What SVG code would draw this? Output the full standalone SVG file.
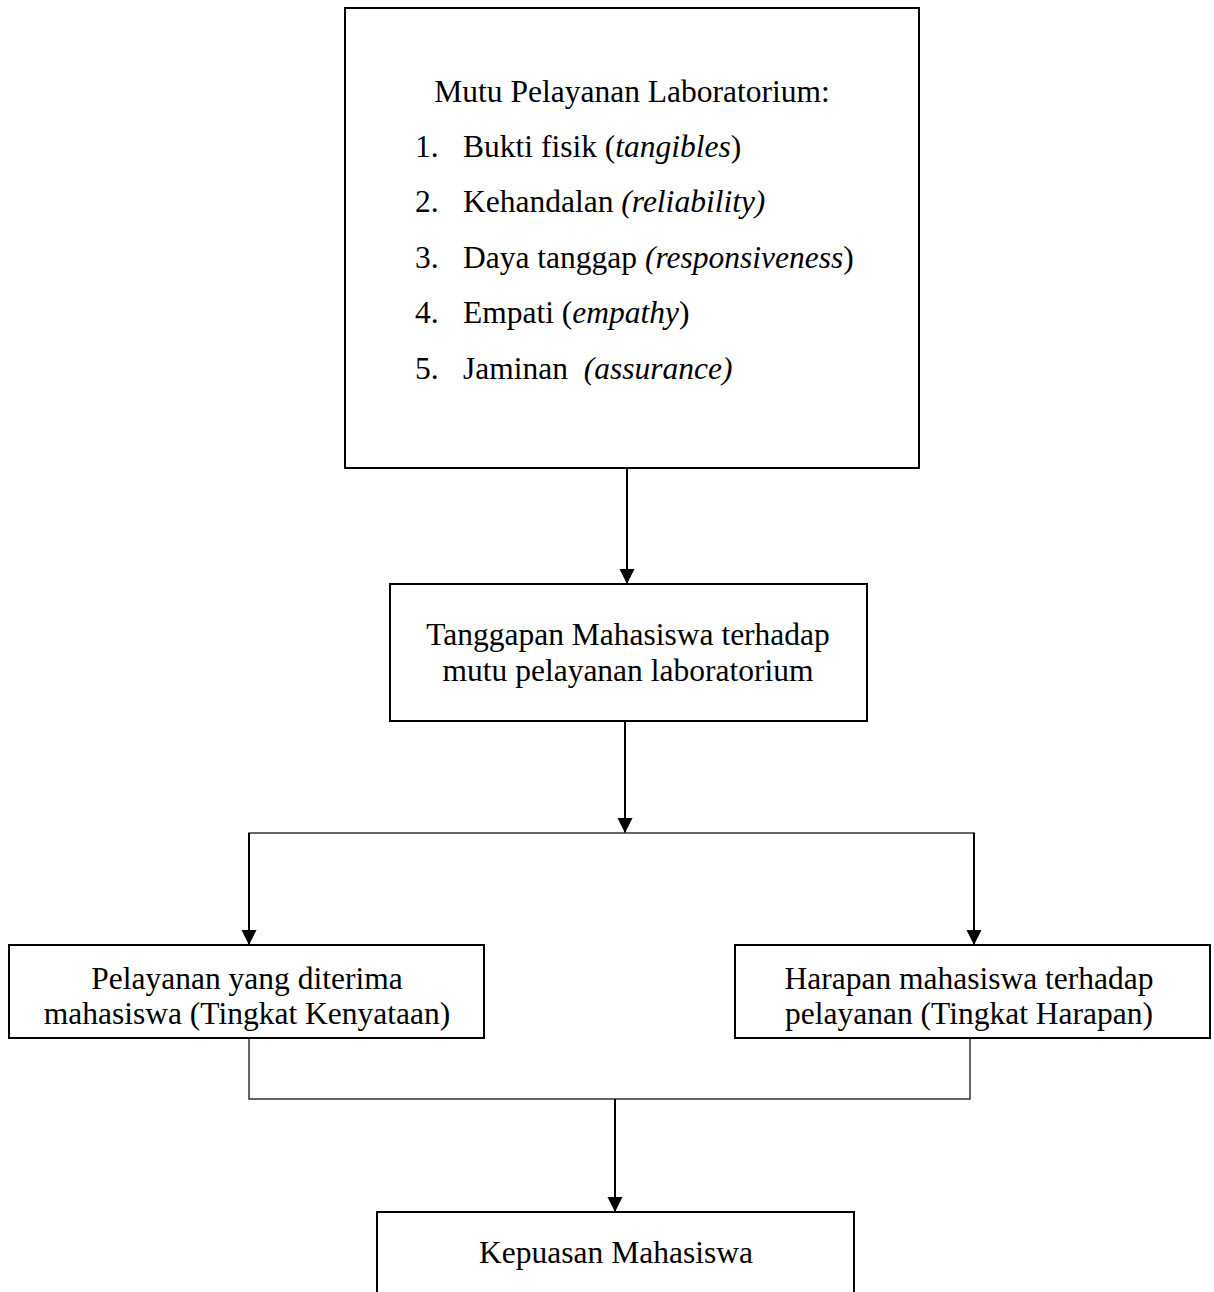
<svg xmlns="http://www.w3.org/2000/svg" width="1214" height="1292" viewBox="0 0 1214 1292">
<style>
  .box { fill: #fff; stroke: #000; stroke-width: 2; }
  .t { font-family: "Liberation Serif", "Times New Roman", serif; font-size: 31.5px; fill: #000; }
  .c { text-anchor: middle; }
  .i { font-style: italic; }
  .arrow { fill: none; stroke: #000; stroke-width: 2; marker-end: url(#ah); }
  .link { fill: none; stroke: #333; stroke-width: 1.5; }
</style>
<defs>
  <marker id="ah" markerUnits="userSpaceOnUse" markerWidth="16" markerHeight="16" refX="15" refY="7.5" orient="auto">
    <path d="M0,0 L15,7.5 L0,15 Z" fill="#000"/>
  </marker>
</defs>
<rect width="1214" height="1292" fill="#fff"/>

<g id="connectors">
  <line class="arrow" x1="627" y1="469" x2="627" y2="584"/>
  <line class="arrow" x1="625" y1="721" x2="625" y2="833"/>
  <polyline class="link" points="249,945 249,833 974,833 974,945"/>
  <line class="arrow" x1="249" y1="833" x2="249" y2="945"/>
  <line class="arrow" x1="974" y1="833" x2="974" y2="945"/>
  <polyline class="link" points="249,1038 249,1099 970,1099 970,1038"/>
  <line class="arrow" x1="615" y1="1099" x2="615" y2="1212"/>
</g>

<g id="node-mutu">
  <rect class="box" x="345" y="8" width="574" height="460"/>
  <text class="t c" x="632" y="102">Mutu Pelayanan Laboratorium:</text>
  <text class="t" x="415" y="157">1.</text>
  <text class="t" x="463" y="157">Bukti fisik (<tspan class="i">tangibles</tspan>)</text>
  <text class="t" x="415" y="212">2.</text>
  <text class="t" x="463" y="212">Kehandalan <tspan class="i">(reliability)</tspan></text>
  <text class="t" x="415" y="268">3.</text>
  <text class="t" x="463" y="268">Daya tanggap <tspan class="i">(responsiveness</tspan>)</text>
  <text class="t" x="415" y="323">4.</text>
  <text class="t" x="463" y="323">Empati (<tspan class="i">empathy</tspan>)</text>
  <text class="t" x="415" y="379">5.</text>
  <text class="t" x="463" y="379">Jaminan <tspan class="i" dx="8">(assurance)</tspan></text>
</g>

<g id="node-tanggapan">
  <rect class="box" x="390" y="584" width="477" height="137"/>
  <text class="t c" x="628" y="645">Tanggapan Mahasiswa terhadap</text>
  <text class="t c" x="628" y="681">mutu pelayanan laboratorium</text>
</g>

<g id="node-kenyataan">
  <rect class="box" x="9" y="945" width="475" height="93"/>
  <text class="t c" x="247" y="989">Pelayanan yang diterima</text>
  <text class="t c" x="247" y="1024">mahasiswa (Tingkat Kenyataan)</text>
</g>

<g id="node-harapan">
  <rect class="box" x="735" y="945" width="475" height="93"/>
  <text class="t c" x="969" y="989">Harapan mahasiswa terhadap</text>
  <text class="t c" x="969" y="1024">pelayanan (Tingkat Harapan)</text>
</g>

<g id="node-kepuasan">
  <rect class="box" x="377" y="1212" width="477" height="100"/>
  <text class="t c" x="616" y="1263">Kepuasan Mahasiswa</text>
</g>
</svg>
